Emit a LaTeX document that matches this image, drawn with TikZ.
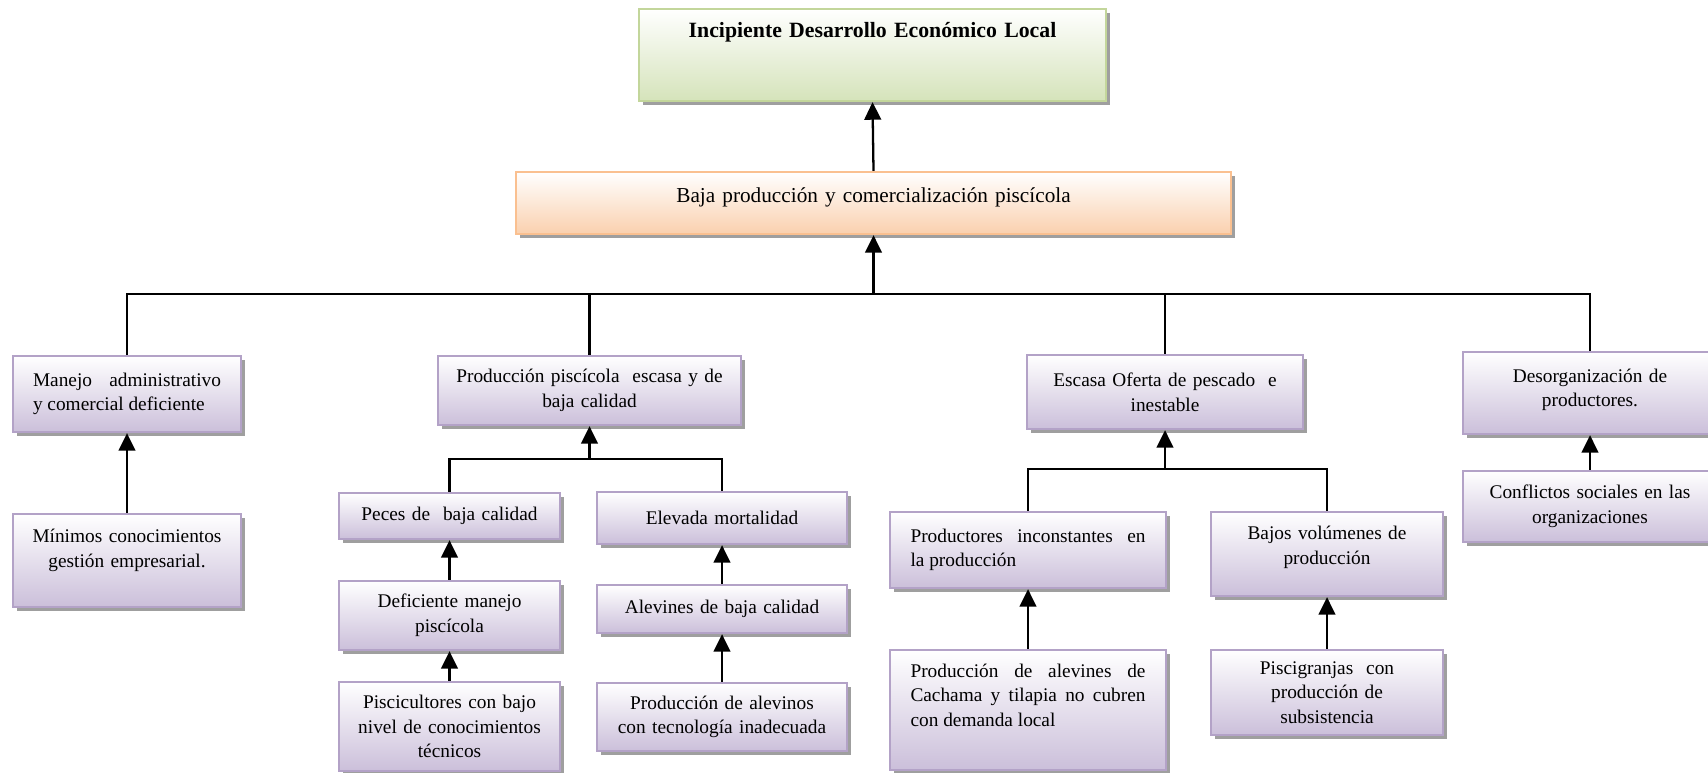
\documentclass[tikz,border=0pt]{standalone}
\usepackage{fontspec}
\setmainfont{Liberation Serif}
\usepackage{xcolor}
\usepackage{tikz}
\usetikzlibrary{arrows.meta,shadows}

\definecolor{lila}{HTML}{CBBFDA}
\definecolor{lilaborde}{HTML}{B3A2C7}
\definecolor{verde}{HTML}{D5E3BA}
\definecolor{verdeborde}{HTML}{C3D69B}
\definecolor{naranja}{HTML}{FAD0AE}
\definecolor{naranjaborde}{HTML}{FAC090}

\tikzset{
  caja/.style={draw=lilaborde, line width=1.3pt, top color=white, bottom color=lila,
    drop shadow={shadow xshift=0.07cm, shadow yshift=-0.08cm, fill=gray!75, opacity=1},
    inner sep=0pt, align=center, font=\fontsize{11}{14}\selectfont},
  link/.style={line width=1.3pt},
  arr/.style={line width=1.3pt, -{Triangle[width=9.5pt,length=10pt]}}
}

\begin{document}
\begin{tikzpicture}
        \useasboundingbox (0,0) rectangle (34.16,-15.44);
        \fill[white] (0,0) rectangle (34.16,-15.44);
        % Effects
        \node[caja, draw=verdeborde, bottom color=verde, minimum width=9.34cm, minimum height=1.84cm,
              text width=9cm, text depth=28pt, font=\fontsize{12.4}{15}\selectfont\bfseries]
              (efecto) at (17.45,-1.10) {Incipiente Desarrollo Económico Local};
        \node[caja, draw=naranjaborde, bottom color=naranja, minimum width=14.30cm, minimum height=1.24cm,
              text width=13.5cm, text depth=9pt, font=\fontsize{12.1}{15}\selectfont]
              (baja) at (17.47,-4.06) {Baja producción y comercialización piscícola};
        % Causes
        \node[caja, minimum width=4.56cm, minimum height=1.52cm, text width=3.76cm, align=justify]
              (manejo) at (2.54,-7.88) {Manejo administrativo\linebreak y comercial deficiente};
        \node[caja, minimum width=6.06cm, minimum height=1.38cm, text width=5.9cm]
              (prodpisc) at (11.79,-7.81) {Producción piscícola \ escasa y de\\ baja calidad};
        \node[caja, minimum width=5.52cm, minimum height=1.48cm, text width=5.3cm]
              (escasa) at (23.30,-7.84) {Escasa Oferta de pescado \ e\\ inestable};
        \node[caja, minimum width=5.08cm, minimum height=1.64cm, text width=4.9cm, text depth=20pt]
              (desorg) at (31.80,-7.86) {Desorganización de\\ productores.};
        % Sub-causes
        \node[caja, minimum width=4.56cm, minimum height=1.86cm, text width=4.4cm, text depth=28pt]
              (minimos) at (2.54,-11.21) {Mínimos conocimientos\\ gestión empresarial.};
        \node[caja, minimum width=4.42cm, minimum height=0.92cm, text width=4.2cm]
              (peces) at (8.99,-10.32) {Peces de \ baja calidad};
        \node[caja, minimum width=5.00cm, minimum height=1.04cm, text width=4.8cm]
              (elevada) at (14.44,-10.36) {Elevada mortalidad};
        \node[caja, minimum width=4.42cm, minimum height=1.38cm, text width=4.2cm]
              (deficiente) at (8.99,-12.31) {Deficiente manejo\\ piscícola};
        \node[caja, minimum width=5.00cm, minimum height=0.96cm, text width=4.8cm]
              (alevines) at (14.44,-12.18) {Alevines de baja calidad};
        \node[caja, minimum width=4.42cm, minimum height=1.78cm, text width=4.2cm]
              (piscicultores) at (8.99,-14.53) {Piscicultores con bajo\\ nivel de conocimientos\\ técnicos};
        \node[caja, minimum width=5.00cm, minimum height=1.36cm, text width=4.8cm]
              (tecnologia) at (14.44,-14.34) {Producción de alevinos\\ con tecnología inadecuada};
        \node[caja, minimum width=5.52cm, minimum height=1.52cm, text width=4.7cm, align=justify]
              (inconstantes) at (20.56,-11.00) {Productores inconstantes en\linebreak la producción};
        \node[caja, minimum width=5.52cm, minimum height=2.40cm, text width=4.7cm, text depth=45pt, align=justify]
              (cachama) at (20.56,-14.20) {Producción de alevines de\linebreak Cachama y tilapia no cubren\linebreak con demanda local};
        \node[caja, minimum width=4.64cm, minimum height=1.68cm, text width=4.4cm, text depth=24pt]
              (volumenes) at (26.54,-11.08) {Bajos volúmenes de\\ producción};
        \node[caja, minimum width=4.64cm, minimum height=1.70cm, text width=4.4cm]
              (piscigranjas) at (26.54,-13.85) {Piscigranjas \ con\\ producción de\\ subsistencia};
        \node[caja, minimum width=5.08cm, minimum height=1.42cm, text width=4.9cm]
              (conflictos) at (31.80,-10.13) {Conflictos sociales en las\\ organizaciones};
        % Main tree
        \draw[arr] (baja.north) -- (efecto.south);
        \coordinate (bus) at (17.47,-5.88);
        \draw[link] (manejo.north) |- (bus) -| (desorg.north);
        \draw[link] (prodpisc.north) |- (bus);
        \draw[link] (escasa.north) |- (bus);
        \draw[arr] (bus) -- (baja.south);
        % Left branches
        \draw[arr] (minimos.north) -- (manejo.south);
        \coordinate (busprod) at (11.79,-9.18);
        \draw[link] (peces.north) |- (busprod) -| (elevada.north);
        \draw[arr] (busprod) -- (prodpisc.south);
        \draw[arr] (deficiente.north) -- (peces.south);
        \draw[arr] (piscicultores.north) -- (deficiente.south);
        \draw[arr] (alevines.north) -- (elevada.south);
        \draw[arr] (tecnologia.north) -- (alevines.south);
        % Right branches
        \coordinate (busesc) at (23.30,-9.38);
        \draw[link] (inconstantes.north) |- (busesc) -| (volumenes.north);
        \draw[arr] (busesc) -- (escasa.south);
        \draw[arr] (cachama.north) -- (inconstantes.south);
        \draw[arr] (piscigranjas.north) -- (volumenes.south);
        \draw[arr] (conflictos.north) -- (desorg.south);
    \end{tikzpicture}
\end{document}
